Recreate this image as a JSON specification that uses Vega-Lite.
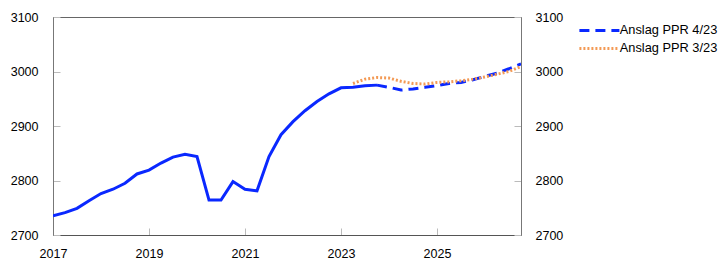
{
  "$schema": "https://vega.github.io/schema/vega-lite/v6.json",
  "width": 468,
  "height": 218,
  "autosize": {"type": "none"},
  "padding": {"left": 53, "top": 17, "right": 201, "bottom": 32},
  "background": "white",
  "config": {
    "font": "Liberation Sans",
    "view": {"stroke": "#666", "strokeWidth": 1},
    "axis": {
      "grid": false,
      "labelFont": "Liberation Sans",
      "labelFontSize": 12.5,
      "labelColor": "#000",
      "tickColor": "#bbb",
      "tickSize": -7,
      "domainColor": "#777",
      "title": null
    },
    "legend": {
      "labelFont": "Liberation Sans",
      "labelFontSize": 12.8,
      "labelColor": "#000",
      "padding": 0
    }
  },
  "datasets": {
    "series": [
      {"t": 2017.0, "v": 2735, "s": "hist"},
      {"t": 2017.25, "v": 2741, "s": "hist"},
      {"t": 2017.5, "v": 2749, "s": "hist"},
      {"t": 2017.75, "v": 2763, "s": "hist"},
      {"t": 2018.0, "v": 2776, "s": "hist"},
      {"t": 2018.25, "v": 2784, "s": "hist"},
      {"t": 2018.5, "v": 2795, "s": "hist"},
      {"t": 2018.75, "v": 2812, "s": "hist"},
      {"t": 2019.0, "v": 2819, "s": "hist"},
      {"t": 2019.25, "v": 2832, "s": "hist"},
      {"t": 2019.5, "v": 2843, "s": "hist"},
      {"t": 2019.75, "v": 2848, "s": "hist"},
      {"t": 2020.0, "v": 2844, "s": "hist"},
      {"t": 2020.25, "v": 2764, "s": "hist"},
      {"t": 2020.5, "v": 2764, "s": "hist"},
      {"t": 2020.75, "v": 2798, "s": "hist"},
      {"t": 2021.0, "v": 2784, "s": "hist"},
      {"t": 2021.25, "v": 2781, "s": "hist"},
      {"t": 2021.5, "v": 2844, "s": "hist"},
      {"t": 2021.75, "v": 2884, "s": "hist"},
      {"t": 2022.0, "v": 2908, "s": "hist"},
      {"t": 2022.25, "v": 2928, "s": "hist"},
      {"t": 2022.5, "v": 2945, "s": "hist"},
      {"t": 2022.75, "v": 2959, "s": "hist"},
      {"t": 2023.0, "v": 2970, "s": "hist"},
      {"t": 2023.25, "v": 2971, "s": "hist"},
      {"t": 2023.5, "v": 2974, "s": "hist"},
      {"t": 2023.75, "v": 2975, "s": "hist"},
      {"t": 2023.75, "v": 2975, "s": "Anslag PPR 4/23"},
      {"t": 2024.0, "v": 2971, "s": "Anslag PPR 4/23"},
      {"t": 2024.25, "v": 2966, "s": "Anslag PPR 4/23"},
      {"t": 2024.5, "v": 2968, "s": "Anslag PPR 4/23"},
      {"t": 2024.75, "v": 2971, "s": "Anslag PPR 4/23"},
      {"t": 2025.0, "v": 2974, "s": "Anslag PPR 4/23"},
      {"t": 2025.25, "v": 2978, "s": "Anslag PPR 4/23"},
      {"t": 2025.5, "v": 2980, "s": "Anslag PPR 4/23"},
      {"t": 2025.75, "v": 2985, "s": "Anslag PPR 4/23"},
      {"t": 2026.0, "v": 2991, "s": "Anslag PPR 4/23"},
      {"t": 2026.25, "v": 2997, "s": "Anslag PPR 4/23"},
      {"t": 2026.5, "v": 3005, "s": "Anslag PPR 4/23"},
      {"t": 2026.75, "v": 3014, "s": "Anslag PPR 4/23"},
      {"t": 2023.25, "v": 2978, "s": "Anslag PPR 3/23"},
      {"t": 2023.5, "v": 2986, "s": "Anslag PPR 3/23"},
      {"t": 2023.75, "v": 2989, "s": "Anslag PPR 3/23"},
      {"t": 2024.0, "v": 2988, "s": "Anslag PPR 3/23"},
      {"t": 2024.25, "v": 2982, "s": "Anslag PPR 3/23"},
      {"t": 2024.5, "v": 2978, "s": "Anslag PPR 3/23"},
      {"t": 2024.75, "v": 2977, "s": "Anslag PPR 3/23"},
      {"t": 2025.0, "v": 2980, "s": "Anslag PPR 3/23"},
      {"t": 2025.25, "v": 2981, "s": "Anslag PPR 3/23"},
      {"t": 2025.5, "v": 2983, "s": "Anslag PPR 3/23"},
      {"t": 2025.75, "v": 2986, "s": "Anslag PPR 3/23"},
      {"t": 2026.0, "v": 2990, "s": "Anslag PPR 3/23"},
      {"t": 2026.25, "v": 2995, "s": "Anslag PPR 3/23"},
      {"t": 2026.5, "v": 3000, "s": "Anslag PPR 3/23"},
      {"t": 2026.75, "v": 3009, "s": "Anslag PPR 3/23"}
    ]
  },
  "data": {"name": "series"},
  "encoding": {
    "x": {
      "field": "t",
      "type": "quantitative",
      "scale": {"domain": [2017, 2026.75], "nice": false, "zero": false},
      "axis": {
        "values": [2017, 2019, 2021, 2023, 2025],
        "format": "d",
        "labelPadding": 19,
        "domainColor": "#555",
        "labelFlush": false
      }
    }
  },
  "layer": [
    {
      "transform": [{"filter": "datum.s === 'hist'"}],
      "mark": {"type": "line", "color": "#0a28ff", "strokeWidth": 3, "clip": true},
      "encoding": {
        "y": {
          "field": "v",
          "type": "quantitative",
          "scale": {"domain": [2700, 3100], "nice": false, "zero": false},
          "axis": {"orient": "left", "values": [2700, 2800, 2900, 3000, 3100], "format": "d", "labelPadding": 22}
        }
      }
    },
    {
      "transform": [{"filter": "datum.s !== 'hist'"}],
      "mark": {"type": "line", "strokeWidth": 3, "clip": true},
      "encoding": {
        "y": {
          "field": "v",
          "type": "quantitative",
          "scale": {"domain": [2700, 3100], "nice": false, "zero": false},
          "axis": {"orient": "right", "values": [2700, 2800, 2900, 3000, 3100], "format": "d", "labelPadding": 21}
        },
        "color": {
          "field": "s",
          "type": "nominal",
          "scale": {"domain": ["Anslag PPR 4/23", "Anslag PPR 3/23"], "range": ["#0a28ff", "#f39a55"]},
          "legend": {
            "title": null,
            "orient": "none",
            "legendX": 540,
            "legendY": 7,
            "symbolType": "M-5,0H5",
            "symbolSize": 64,
            "symbolStrokeWidth": 3,
            "labelOffset": 14,
            "rowPadding": 4
          }
        },
        "strokeDash": {
          "field": "s",
          "type": "nominal",
          "scale": {"domain": ["Anslag PPR 4/23", "Anslag PPR 3/23"], "range": [[10, 6], [2, 2]]},
          "legend": {
            "title": null,
            "orient": "none",
            "legendX": 540,
            "legendY": 7,
            "symbolType": "M-5,0H5",
            "symbolSize": 64,
            "symbolStrokeWidth": 3,
            "labelOffset": 14,
            "rowPadding": 4
          }
        }
      }
    }
  ],
  "resolve": {"scale": {"y": "independent"}}
}
